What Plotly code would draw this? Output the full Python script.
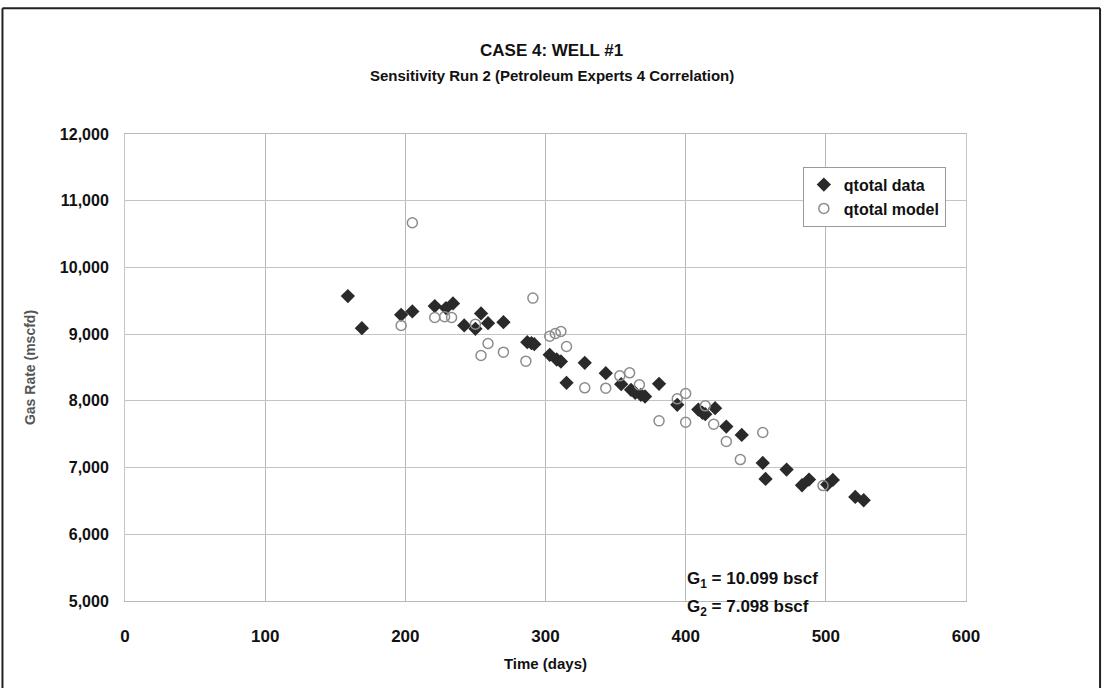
import plotly.graph_objects as go

# qtotal data (diamonds)
data_days = [159, 169, 197, 205, 221, 229, 234, 242, 250, 254, 259, 270, 287, 290, 292,
             303, 308, 311, 315, 328, 343, 354, 361, 364, 368, 371, 381, 394, 409, 412,
             414, 421, 429, 440, 455, 457, 472, 483, 488, 501, 505, 521, 527]
data_rate = [9570, 9090, 9290, 9340, 9420, 9390, 9460, 9130, 9080, 9310, 9165, 9180, 8880, 8865, 8850,
             8690, 8620, 8590, 8270, 8570, 8415, 8250, 8165, 8120, 8090, 8065, 8255, 7940, 7870, 7820,
             7800, 7890, 7615, 7490, 7070, 6830, 6970, 6735, 6820, 6745, 6815, 6560, 6510]

# qtotal model (open circles)
model_days = [197, 205, 221, 228, 233, 250, 254, 259, 270, 286, 291, 303, 307, 311, 315,
              328, 343, 353, 360, 367, 381, 394, 400, 400, 414, 420, 429, 439, 455, 498]
model_rate = [9130, 10670, 9250, 9260, 9250, 9150, 8680, 8860, 8730, 8595, 9540, 8970, 9010, 9040, 8815,
              8195, 8190, 8375, 8420, 8240, 7700, 8030, 8110, 7680, 7925, 7650, 7390, 7120, 7525, 6730]

x_ticks = [0, 100, 200, 300, 400, 500, 600]
y_ticks = [5000, 6000, 7000, 8000, 9000, 10000, 11000, 12000]

FONT = "Liberation Sans, Arial, sans-serif"

fig = go.Figure()
fig.add_trace(go.Scatter(
    x=data_days, y=data_rate, mode="markers", name="qtotal data",
    marker=dict(symbol="diamond", size=11, color="#2a2a2a", line=dict(width=0)),
))
fig.add_trace(go.Scatter(
    x=model_days, y=model_rate, mode="markers", name="qtotal model",
    marker=dict(symbol="circle-open", size=10, color="#8c8c8c", line=dict(width=1.5, color="#8c8c8c")),
))

fig.update_layout(
    width=1104, height=688,
    margin=dict(l=125, r=138, t=134, b=87, autoexpand=False),
    paper_bgcolor="white", plot_bgcolor="white",
    font=dict(family=FONT, color="#111111"),
    showlegend=True,
    legend=dict(
        x=0.806, y=0.93, xanchor="left", yanchor="top",
        bgcolor="white", bordercolor="#9a9a9a", borderwidth=1,
        font=dict(family=FONT, size=16, color="#111111", weight="bold"),
        itemwidth=30, tracegroupgap=2,
    ),
)

fig.update_xaxes(
    range=[0, 600], tickvals=x_ticks, tickformat=",d",
    showgrid=True, gridcolor="#b9b9b9", gridwidth=1,
    zeroline=False, showline=True, linecolor="#b9b9b9", linewidth=1, mirror=True,
    ticks="", ticklabelstandoff=20,
    tickfont=dict(family=FONT, size=17, color="#111111", weight="bold"),
    title=dict(text="Time (days)", standoff=13,
               font=dict(family=FONT, size=15, color="#111111", weight="bold")),
)
fig.update_yaxes(
    range=[5000, 12000], tickvals=y_ticks, tickformat=",d",
    showgrid=True, gridcolor="#c4c4c4", gridwidth=1,
    zeroline=False, showline=True, linecolor="#c4c4c4", linewidth=1, mirror=True,
    ticks="", ticklabelstandoff=12,
    tickfont=dict(family=FONT, size=16, color="#111111", weight="bold"),
    title=dict(text="Gas Rate (mscfd)", standoff=20,
               font=dict(family=FONT, size=14, color="#555555", weight="bold")),
)

# Title lines
fig.add_annotation(x=0.5075, y=1.1797, xref="paper", yref="paper", showarrow=False,
                   xanchor="center", yanchor="middle",
                   text="CASE 4: WELL #1",
                   font=dict(family=FONT, size=17, color="#111111", weight="bold"))
fig.add_annotation(x=0.5075, y=1.1262, xref="paper", yref="paper", showarrow=False,
                   xanchor="center", yanchor="middle",
                   text="Sensitivity Run 2 (Petroleum Experts 4 Correlation)",
                   font=dict(family=FONT, size=15, color="#111111", weight="bold"))

# G annotations
fig.add_annotation(x=399.5, y=0.044, xref="x", yref="paper", showarrow=False,
                   xanchor="left", yanchor="middle",
                   text="G<sub>1</sub> = 10.099 bscf",
                   font=dict(family=FONT, size=17, color="#111111", weight="bold"))
fig.add_annotation(x=399.5, y=-0.014, xref="x", yref="paper", showarrow=False,
                   xanchor="left", yanchor="middle",
                   text="G<sub>2</sub> = 7.098 bscf",
                   font=dict(family=FONT, size=17, color="#111111", weight="bold"))

# Outer frame of the chart (top, left, right edges)
frame = dict(xref="paper", yref="paper", line=dict(color="#222222", width=2), layer="above")
fig.add_shape(type="line", x0=-0.1457, x1=1.1594, y0=1.2695, y1=1.2695, **frame)
fig.add_shape(type="line", x0=-0.1457, x1=-0.1457, y0=1.2695, y1=-0.2, **frame)
fig.add_shape(type="line", x0=1.1594, x1=1.1594, y0=1.2695, y1=-0.2, **frame)

fig.write_html("out.html")
